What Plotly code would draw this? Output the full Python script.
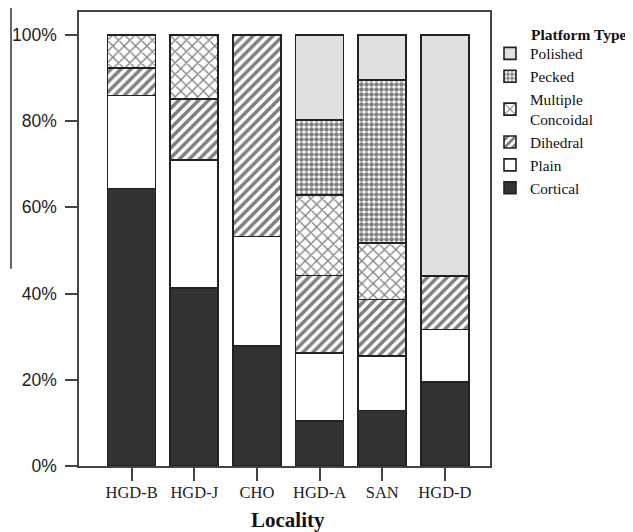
import plotly.graph_objects as go

localities = ["HGD-B", "HGD-J", "CHO", "HGD-A", "SAN", "HGD-D"]
cortical = [64.4, 41.3, 27.8, 10.5, 12.9, 19.5]
plain = [21.5, 29.7, 25.4, 15.7, 12.6, 12.2]
dihedral = [6.4, 14.1, 46.8, 18.0, 13.1, 12.3]
multiple = [7.7, 14.9, 0.0, 18.7, 13.1, 0.0]
pecked = [0.0, 0.0, 0.0, 17.3, 37.8, 0.0]
polished = [0.0, 0.0, 0.0, 19.8, 10.5, 56.0]
y_ticks = [0, 20, 40, 60, 80, 100]
y_tick_labels = ["0%", "20%", "40%", "60%", "80%", "100%"]

series = [
    ("Cortical", cortical, dict(color="#333333")),
    ("Plain", plain, dict(color="white")),
    ("Dihedral", dihedral, dict(color="white", pattern=dict(shape="/", fgcolor="#000000", bgcolor="white", size=7, solidity=0.5))),
    ("Multiple<br>Concoidal", multiple, dict(color="white", pattern=dict(shape="x", fgcolor="#000000", bgcolor="white", size=8, solidity=0.3))),
    ("Pecked", pecked, dict(color="white", pattern=dict(shape=".", fgcolor="#000000", bgcolor="white", size=5, solidity=0.65))),
    ("Polished", polished, dict(color="#e0e0e0")),
]

fig = go.Figure()
for name, vals, mk in series:
    marker = dict(mk)
    marker["line"] = dict(color="#222222", width=1.6)
    fig.add_trace(go.Bar(x=localities, y=vals, name=name, marker=marker, width=0.766))

serif = "Liberation Serif"
sans = "Liberation Sans"

# page body adds an 8px offset; the figure is sized and margined to compensate
fig.update_layout(
    width=625, height=524,
    margin=dict(l=71, r=143, t=2, b=66),
    barmode="stack",
    plot_bgcolor="white", paper_bgcolor="white",
    showlegend=True,
    legend=dict(
        x=1.0, xanchor="left", y=0.945, yanchor="top",
        traceorder="reversed",
        font=dict(family=serif, size=15.3, color="#111111"),
        bgcolor="rgba(0,0,0,0)",
    ),
    xaxis=dict(
        type="category", range=[-0.84, 5.72],
        showline=True, linecolor="#444444", linewidth=1.5, mirror=True,
        ticks="outside", ticklen=13, tickcolor="#444444", tickwidth=1.5,
        tickfont=dict(family=serif, size=16.5, color="#222222"),
        ticklabelstandoff=-3,
        showgrid=False, zeroline=False,
    ),
    yaxis=dict(
        range=[0, 105.3],
        tickvals=y_ticks, ticktext=y_tick_labels,
        showline=True, linecolor="#444444", linewidth=1.5, mirror=True,
        ticks="outside", ticklen=12, tickcolor="#444444", tickwidth=1.5,
        tickfont=dict(family=sans, size=17.5, color="#222222"),
        ticklabelstandoff=5,
        showgrid=False, zeroline=False,
    ),
    annotations=[
        dict(text="<b>Platform Type</b>", xref="paper", yref="paper",
             x=(529 - 79) / 411, y=(466 - 33) / 456, xanchor="left", yanchor="middle",
             showarrow=False, font=dict(family=serif, size=15.5, color="#111111")),
        dict(text="<b>Locality</b>", xref="paper", yref="paper",
             x=(288 - 79) / 411, y=(466 - 520) / 456, xanchor="center", yanchor="middle",
             showarrow=False, font=dict(family=serif, size=21, color="#111111")),
    ],
    shapes=[
        dict(type="line", xref="paper", yref="paper",
             x0=(11 - 79) / 411, x1=(11 - 79) / 411,
             y0=(466 - 268) / 456, y1=(466 - 0) / 456,
             line=dict(color="#333333", width=1.5)),
    ],
)

fig.write_html("out.html")
